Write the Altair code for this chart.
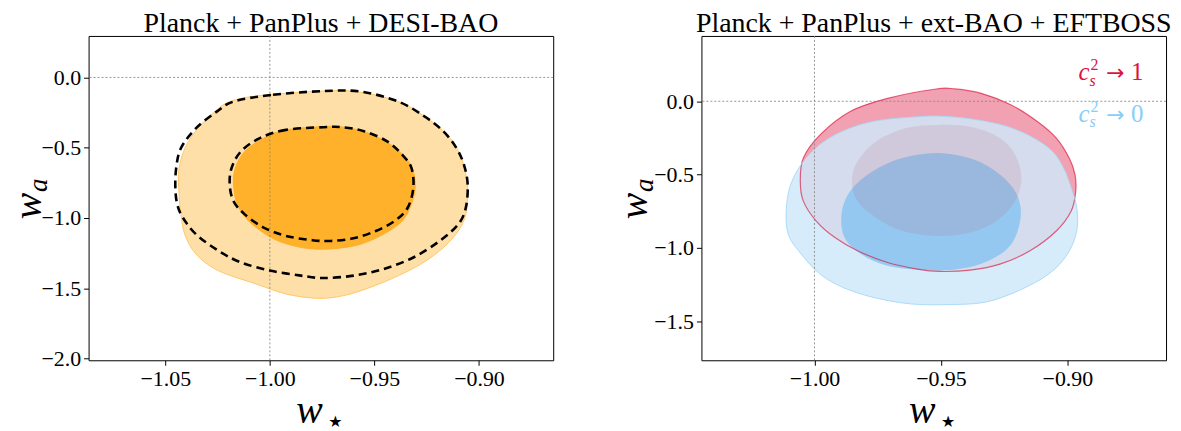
import altair as alt
import pandas as pd

# ---------------- data: contour vertices (w_star, w_a) ----------------
# Left panel: Planck + PanPlus + DESI-BAO
LO_X = [-0.9744, -1.0138, -1.0281, -1.0389, -1.0434, -1.0434, -1.0425, -1.0407, -1.0353, -1.0246, -1.0066,
        -0.9923, -0.9780, -0.9672, -0.9565, -0.9421, -0.9278, -0.9170, -0.9099, -0.9063, -0.9054, -0.9063,
        -0.9090, -0.9152, -0.9260, -0.9385, -0.9565]
LO_Y = [-0.097, -0.149, -0.267, -0.455, -0.644, -0.833, -0.974, -1.116, -1.257, -1.375, -1.469,
        -1.540, -1.571, -1.559, -1.517, -1.434, -1.328, -1.210, -1.092, -0.974, -0.809, -0.691,
        -0.550, -0.408, -0.278, -0.172, -0.106]
LI_X = [-0.9744, -0.9923, -1.0030, -1.0120, -1.0165, -1.0174, -1.0156, -1.0102, -0.9995, -0.9887, -0.9780,
        -0.9672, -0.9565, -0.9457, -0.9367, -0.9323, -0.9305, -0.9314, -0.9349, -0.9421, -0.9529, -0.9636]
LI_Y = [-0.349, -0.373, -0.432, -0.526, -0.644, -0.762, -0.903, -1.021, -1.139, -1.198, -1.222,
        -1.215, -1.186, -1.116, -1.021, -0.903, -0.785, -0.667, -0.573, -0.479, -0.396, -0.356]
LOD_X = [-0.9744, -0.9995, -1.0174, -1.0254, -1.0353, -1.0425, -1.0448, -1.0452, -1.0443, -1.0416, -1.0353,
         -1.0246, -1.0138, -0.9995, -0.9851, -0.9744, -0.9600, -0.9457, -0.9314, -0.9188, -0.9099, -0.9063,
         -0.9054, -0.9072, -0.9108, -0.9170, -0.9260, -0.9385, -0.9565]
LOD_Y = [-0.097, -0.125, -0.172, -0.243, -0.361, -0.502, -0.644, -0.785, -0.903, -0.998, -1.116,
         -1.233, -1.316, -1.375, -1.410, -1.427, -1.410, -1.363, -1.281, -1.163, -1.045, -0.927,
         -0.762, -0.620, -0.502, -0.384, -0.278, -0.172, -0.101]
LID_X = [-0.9744, -0.9923, -1.0048, -1.0138, -1.0183, -1.0192, -1.0174, -1.0120, -1.0030, -0.9923, -0.9797,
         -0.9708, -0.9600, -0.9493, -0.9403, -0.9341, -0.9314, -0.9323, -0.9367, -0.9439, -0.9547, -0.9654]
LID_Y = [-0.354, -0.373, -0.432, -0.526, -0.644, -0.762, -0.880, -0.974, -1.068, -1.127, -1.158,
         -1.163, -1.144, -1.092, -1.021, -0.927, -0.785, -0.644, -0.550, -0.455, -0.384, -0.354]

# Right panel: Planck + PanPlus + ext-BAO + EFTBOSS
RO_X = [-0.9519, -0.9711, -0.9859, -0.9978, -1.0044, -1.0056, -1.0044, -0.9993, -0.9919, -0.9830, -0.9711,
        -0.9593, -0.9504, -0.9385, -0.9267, -0.9148, -0.9044, -0.8985, -0.8967, -0.8970, -0.8993, -0.9044,
        -0.9119, -0.9222, -0.9341, -0.9444]
RO_Y = [0.084, 0.020, -0.070, -0.229, -0.387, -0.545, -0.681, -0.817, -0.930, -1.020, -1.100,
        -1.145, -1.161, -1.152, -1.111, -1.020, -0.885, -0.749, -0.613, -0.500, -0.387, -0.251,
        -0.138, -0.025, 0.054, 0.084]
RI_X = [-0.9504, -0.9637, -0.9756, -0.9830, -0.9852, -0.9830, -0.9756, -0.9652, -0.9511, -0.9385, -0.9281,
        -0.9207, -0.9182, -0.9207, -0.9267, -0.9370]
RI_Y = [-0.161, -0.183, -0.274, -0.410, -0.545, -0.681, -0.794, -0.885, -0.919, -0.896, -0.817,
        -0.681, -0.523, -0.364, -0.251, -0.179]
BO_X = [-0.9578, -0.9770, -0.9919, -1.0022, -1.0089, -1.0111, -1.0104, -1.0052, -0.9978, -0.9889, -0.9770,
        -0.9622, -0.9474, -0.9326, -0.9193, -0.9074, -0.9000, -0.8963, -0.8963, -0.8985, -0.9015, -0.9059,
        -0.9133, -0.9237, -0.9356, -0.9474]
BO_Y = [-0.104, -0.138, -0.229, -0.364, -0.545, -0.726, -0.907, -1.043, -1.179, -1.269, -1.337,
        -1.382, -1.387, -1.371, -1.292, -1.179, -1.043, -0.885, -0.726, -0.590, -0.455, -0.342,
        -0.251, -0.172, -0.127, -0.104]
BI_X = [-0.9511, -0.9652, -0.9770, -0.9859, -0.9893, -0.9881, -0.9815, -0.9711, -0.9563, -0.9430, -0.9311,
        -0.9222, -0.9185, -0.9200, -0.9267, -0.9370]
BI_Y = [-0.353, -0.387, -0.477, -0.613, -0.771, -0.930, -1.043, -1.122, -1.152, -1.145, -1.088,
        -0.975, -0.794, -0.636, -0.500, -0.398]

# axes
L_XDOM = [-1.0867, -0.8645]
L_YDOM = [-2.012, 0.295]
R_XDOM = [-1.0447, -0.861]
R_YDOM = [-1.767, 0.4457]
L_XTICKS = [-1.05, -1.00, -0.95, -0.90]
L_YTICKS = [0.0, -0.5, -1.0, -1.5, -2.0]
R_XTICKS = [-1.00, -0.95, -0.90]
R_YTICKS = [0.0, -0.5, -1.0, -1.5]
REF_X = [-1.0]
REF_Y = [0.0]

TITLE_L = "Planck + PanPlus + DESI-BAO"
TITLE_R = "Planck + PanPlus + ext-BAO + EFTBOSS"

W, H = 467, 326
SERIF = "Liberation Serif"


def xenc(dom, ticks):
    return alt.X("x:Q", scale=alt.Scale(domain=dom, nice=False, zero=False),
                 axis=alt.Axis(values=ticks, format=".2f", title=None))


def yenc(dom, ticks):
    return alt.Y("y:Q", scale=alt.Scale(domain=dom, nice=False, zero=False),
                 axis=alt.Axis(values=ticks, format=".1f", title=None))


def poly(xs, ys, xdom, ydom, xt, yt, **mark):
    df = pd.DataFrame({"x": xs, "y": ys, "i": list(range(len(xs)))})
    return alt.Chart(df).mark_line(interpolate="cardinal-closed", clip=True, **mark).encode(
        x=xenc(xdom, xt), y=yenc(ydom, yt), order="i:Q")


def refs(xdom, ydom, xt, yt):
    vx = alt.Chart(pd.DataFrame({"x": REF_X})).mark_rule(
        color="#8a8a8a", strokeWidth=0.9, strokeDash=[2, 2]).encode(x=xenc(xdom, xt))
    hy = alt.Chart(pd.DataFrame({"y": REF_Y})).mark_rule(
        color="#8a8a8a", strokeWidth=0.9, strokeDash=[2, 2]).encode(y=yenc(ydom, yt))
    return [vx, hy]


def txt(s, x, y, size, color="black", italic=False, angle=0, align="center", font=SERIF):
    kw = dict(fontSize=size, color=color, align=align, baseline="alphabetic", font=font)
    if italic:
        kw["fontStyle"] = "italic"
    if angle:
        kw["angle"] = angle
    return alt.Chart(pd.DataFrame({"t": [s]})).mark_text(**kw).encode(
        x=alt.value(x), y=alt.value(y), text="t:N")


def labels(title, ybase):
    return [
        txt(title, W / 2, -4, 28),
        # x title  w_star
        txt("w", 222, 389, 40, italic=True),
        txt("\u2605", 248, 393, 16, font="DejaVu Sans"),
        # y title  w_a
        txt("w", ybase, 171, 40, italic=True, angle=270),
        txt("a", ybase + 6, 150, 27, italic=True, angle=270),
    ]


# ---------------- left panel ----------------
left_layers = [
    poly(LO_X, LO_Y, L_XDOM, L_YDOM, L_XTICKS, L_YTICKS, fill="#FFDFA8", stroke="#FFC766", strokeWidth=1),
    poly(LI_X, LI_Y, L_XDOM, L_YDOM, L_XTICKS, L_YTICKS, fill="#FFB12B", stroke="#FFAA22", strokeWidth=0.8),
] + refs(L_XDOM, L_YDOM, L_XTICKS, L_YTICKS) + [
    poly(LOD_X, LOD_Y, L_XDOM, L_YDOM, L_XTICKS, L_YTICKS, stroke="black", strokeWidth=2.6, strokeDash=[8, 5]),
    poly(LID_X, LID_Y, L_XDOM, L_YDOM, L_XTICKS, L_YTICKS, stroke="black", strokeWidth=2.6, strokeDash=[8, 5]),
] + labels(TITLE_L, -48)
left = alt.layer(*left_layers).properties(width=W, height=H)

# ---------------- right panel ----------------
RED = "#DC143C"
BLUE = "#87CEFA"
right_layers = [
    poly(RO_X, RO_Y, R_XDOM, R_YDOM, R_XTICKS, R_YTICKS, fill=RED, fillOpacity=0.4, strokeOpacity=0),
    poly(BO_X, BO_Y, R_XDOM, R_YDOM, R_XTICKS, R_YTICKS, fill="#CEE8F9", fillOpacity=0.83, strokeOpacity=0),
    poly(BI_X, BI_Y, R_XDOM, R_YDOM, R_XTICKS, R_YTICKS, fill="#79BFF1", fillOpacity=0.7, strokeOpacity=0),
    poly(RI_X, RI_Y, R_XDOM, R_YDOM, R_XTICKS, R_YTICKS, fill="#B95776", fillOpacity=0.15, strokeOpacity=0),
    poly(RO_X, RO_Y, R_XDOM, R_YDOM, R_XTICKS, R_YTICKS, stroke=RED, strokeOpacity=0.65, strokeWidth=1.2),
    poly(BO_X, BO_Y, R_XDOM, R_YDOM, R_XTICKS, R_YTICKS, stroke="#A6D8F7", strokeOpacity=0.9, strokeWidth=1),
] + refs(R_XDOM, R_YDOM, R_XTICKS, R_YTICKS) + labels(TITLE_R, -55) + [
    # legend-like annotations
    txt("c", 379, 44, 25, color=RED, italic=True, align="left"),
    txt("2", 391, 34, 16, color=RED, align="left"),
    txt("s", 390, 50, 16, color=RED, italic=True, align="left"),
    txt("\u2192", 416, 44, 22, color=RED, font="DejaVu Sans"),
    txt("1", 438, 44, 25, color=RED),
    txt("c", 379, 86, 25, color=BLUE, italic=True, align="left"),
    txt("2", 391, 76, 16, color=BLUE, align="left"),
    txt("s", 390, 92, 16, color=BLUE, italic=True, align="left"),
    txt("\u2192", 416, 86, 22, color=BLUE, font="DejaVu Sans"),
    txt("0", 438, 86, 25, color=BLUE),
]
right = alt.layer(*right_layers).properties(width=W, height=H)

chart = alt.hconcat(left, right, spacing=149, bounds="flush").properties(
    padding=0
).configure_view(
    stroke="black", strokeWidth=1
).configure_axis(
    labelFont=SERIF, labelFontSize=22, labelColor="black",
    tickColor="black", tickSize=5, tickWidth=1, domain=False, grid=False,
    labelPadding=3
)

chart.save("out.html", embed_options={"renderer": "svg", "actions": False})
